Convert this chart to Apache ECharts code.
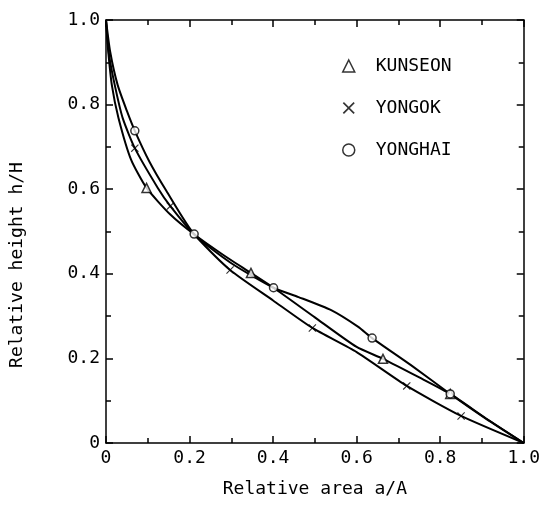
<!DOCTYPE html>
<html>
<head>
<meta charset="utf-8">
<script src="https://cdn.jsdelivr.net/npm/echarts@6/dist/echarts.min.js"></script>
<style>
  html, body { margin: 0; padding: 0; background: #fff; }
  #chart { width: 543px; height: 514px; }
</style>
</head>
<body>
<div id="chart"></div>
<script>
// tick labels
const xTickLabels = ['0', '0.2', '0.4', '0.6', '0.8', '1.0']
const yTickLabels = ['0', '0.2', '0.4', '0.6', '0.8', '1.0']

// curves [a/A, h/H]
const kunseonCurve = [[0, 1], [0.005, 0.93], [0.014, 0.846], [0.03, 0.768], [0.06, 0.67], [0.097, 0.603], [0.154, 0.54], [0.21, 0.494], [0.28, 0.445], [0.347, 0.402], [0.401, 0.367], [0.5, 0.297], [0.6, 0.227], [0.663, 0.199], [0.75, 0.155], [0.824, 0.116], [0.91, 0.058], [1, 0]]
const yongokCurve = [[0, 1], [0.007, 0.92], [0.021, 0.846], [0.04, 0.768], [0.069, 0.697], [0.124, 0.603], [0.154, 0.56], [0.21, 0.494], [0.297, 0.409], [0.4, 0.337], [0.494, 0.272], [0.6, 0.215], [0.72, 0.135], [0.85, 0.064], [1, 0]]
const yonghaiCurve = [[0, 1], [0.01, 0.925], [0.028, 0.846], [0.05, 0.785], [0.069, 0.738], [0.104, 0.665], [0.144, 0.597], [0.211, 0.494], [0.3, 0.425], [0.401, 0.367], [0.461, 0.345], [0.539, 0.314], [0.603, 0.275], [0.637, 0.248], [0.73, 0.184], [0.824, 0.116], [0.91, 0.057], [1, 0]]

// marked points
const kunseonMarks = [[0.097, 0.603], [0.347, 0.402], [0.663, 0.199], [0.824, 0.116]]
const yongokMarks = [[0.069, 0.697], [0.154, 0.56], [0.297, 0.409], [0.494, 0.272], [0.72, 0.135], [0.85, 0.064]]
const yonghaiMarks = [[0.069, 0.738], [0.211, 0.494], [0.401, 0.367], [0.637, 0.248], [0.824, 0.116]]

const font = 'DejaVu Sans Mono'
const crossPath = 'path://M0,1 L1,0 L5,4 L9,0 L10,1 L6,5 L10,9 L9,10 L5,6 L1,10 L0,9 L4,5 Z'

function tickFmt(labels) {
    return function (v) {
        return labels[Math.round(v / 0.2)]
    }
}

function makeAxis(pos, labels) {
    return {
        type: 'value',
        position: pos,
        min: 0,
        max: 1,
        interval: 0.2,
        axisLine: { show: true, onZero: false, lineStyle: { color: '#000', width: 1.5 } },
        axisTick: { show: true, inside: true, length: 7, lineStyle: { color: '#000', width: 1.5 } },
        minorTick: { show: true, splitNumber: 2, length: 5, lineStyle: { color: '#000', width: 1.5 } },
        splitLine: { show: false },
        axisLabel: labels ? {
            show: true,
            formatter: tickFmt(labels),
            color: '#000',
            fontFamily: font,
            fontSize: 18,
            margin: 6
        } : { show: false }
    }
}

function lineSeries(name, data) {
    return {
        name: name,
        type: 'line',
        data: data,
        smooth: 0.2,
        showSymbol: false,
        lineStyle: { color: '#000', width: 2 },
        silent: true,
        z: 2
    }
}

let myChart = echarts.init(document.querySelector('#chart'))

const option = {
    animation: false,
    grid: { left: 106, right: 16, top: 20, bottom: 71 },
    xAxis: [
        Object.assign(makeAxis('bottom', xTickLabels), {
            name: 'Relative area a/A',
            nameLocation: 'middle',
            nameGap: 37,
            nameTextStyle: { color: '#000', fontFamily: font, fontSize: 18 }
        }),
        makeAxis('top', null)
    ],
    yAxis: [
        makeAxis('left', yTickLabels),
        makeAxis('right', null)
    ],
    legend: {
        orient: 'vertical',
        left: 337,
        top: 52,
        itemGap: 24,
        itemWidth: 12,
        itemHeight: 12,
        selectedMode: false,
        textStyle: { color: '#000', fontFamily: font, fontSize: 18, padding: [0, 0, 0, 16] },
        data: [
            { name: 'KUNSEON', icon: 'triangle', itemStyle: { color: '#fff', borderColor: '#000', borderWidth: 1.5 } },
            { name: 'YONGOK', icon: crossPath, itemStyle: { color: '#000', borderWidth: 0 } },
            { name: 'YONGHAI', icon: 'circle', itemStyle: { color: '#fff', borderColor: '#000', borderWidth: 1.5 } }
        ]
    },
    graphic: [{
        type: 'text',
        x: 17,
        y: 265,
        rotation: Math.PI / 2,
        style: {
            text: 'Relative height h/H',
            fill: '#000',
            font: '18px "DejaVu Sans Mono"',
            align: 'center',
            verticalAlign: 'middle'
        }
    }],
    series: [
        lineSeries('KUNSEON curve', kunseonCurve),
        lineSeries('YONGOK curve', yongokCurve),
        lineSeries('YONGHAI curve', yonghaiCurve),
        {
            name: 'KUNSEON',
            type: 'scatter',
            data: kunseonMarks,
            symbol: 'triangle',
            symbolSize: 9,
            itemStyle: { color: '#fff', borderColor: '#000', borderWidth: 1.5 },
            z: 3
        },
        {
            name: 'YONGOK',
            type: 'scatter',
            data: yongokMarks,
            symbol: crossPath,
            symbolSize: 8,
            itemStyle: { color: '#000' },
            z: 3
        },
        {
            name: 'YONGHAI',
            type: 'scatter',
            data: yonghaiMarks,
            symbol: 'circle',
            symbolSize: 8,
            itemStyle: { color: '#fff', borderColor: '#000', borderWidth: 1.5 },
            z: 3
        }
    ]
}

myChart.setOption(option)
</script>
</body>
</html>
